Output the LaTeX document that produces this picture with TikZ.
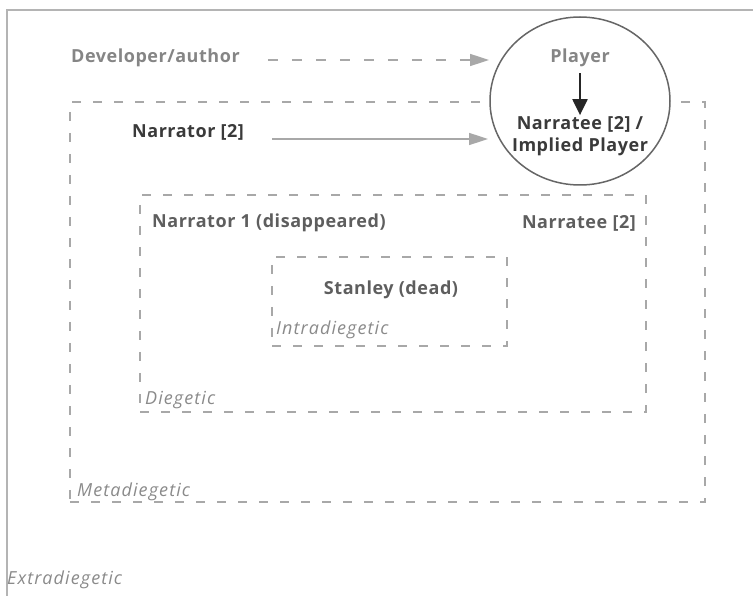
\documentclass[tikz,border=0pt]{standalone}
\usepackage{fontspec}
\setmainfont{Open Sans}[LetterSpace=3]
\newfontfamily\labelfont{Open Sans}[LetterSpace=6]
\usetikzlibrary{arrows.meta,shapes.geometric}
\definecolor{framegray}{HTML}{B4B4B4}
\definecolor{dashgray}{HTML}{A8A8A8}
\definecolor{lightTxt}{HTML}{858585}
\definecolor{midTxt}{HTML}{5E5E5E}
\definecolor{darkTxt}{HTML}{3A3A3A}
\definecolor{labelTxt}{HTML}{8A8A8A}
\tikzset{
  lvlbox/.style={draw=dashgray, line width=1.6pt, dash pattern=on 9pt off 12pt},
  boldtxt/.style={font=\fontsize{18}{21}\selectfont\bfseries, inner sep=0pt},
  lvllabel/.style={font=\fontsize{18}{21}\selectfont\labelfont\itshape, text=labelTxt, inner sep=0pt, anchor=west},
  grayarrow/.style={draw=dashgray, line width=1.6pt, -{Triangle[length=19pt,width=12pt]}},
}
\begin{document}
\begin{tikzpicture}[x=1pt,y=-1pt]
\useasboundingbox (0,0) rectangle (753,596);
% outer frame (extradiegetic)
\draw[framegray, line width=1.5pt] (7,596) -- (7,10) -- (753,10);
% level boxes
\node[lvlbox, minimum width=635pt, minimum height=400pt, inner sep=0pt] (meta) at (387.5,302) {};
\node[lvlbox, minimum width=506pt, minimum height=217pt, inner sep=0pt] (dieg) at (393,303.5) {};
\node[lvlbox, minimum width=235pt, minimum height=89pt, inner sep=0pt] (intra) at (389.5,301.5) {};
% player circle
\node[ellipse, draw=black!60, fill=white, line width=1.5pt, minimum width=180pt, minimum height=168pt] (circ) at (580,101) {};
% texts
\node[boldtxt, text=lightTxt, anchor=west] (dev) at (71,58) {Developer/author};
\node[boldtxt, text=lightTxt] (player) at (580,58) {Player};
\node[boldtxt, text=darkTxt, align=center, font=\fontsize{18}{22}\selectfont\bfseries] (narratee) at (580,136) {Narratee [2] /\\Implied Player};
\node[boldtxt, text=darkTxt, anchor=west] (narr2) at (132,132) {Narrator [2]};
\node[boldtxt, text=midTxt, anchor=west] (narr1) at (152,223) {Narrator 1 (disappeared)};
\node[boldtxt, text=midTxt, anchor=east] (narratee2) at (636,223) {Narratee [2]};
\node[boldtxt, text=midTxt] (stanley) at (391,290) {Stanley (dead)};
\node[lvllabel] (lintra) at (276,330) {Intradiegetic};
\node[lvllabel] (ldieg) at (145,400) {Diegetic};
\node[lvllabel] (lmeta) at (77,492) {Metadiegetic};
\node[lvllabel] (lextra) at (7,580) {Extradiegetic};
% connectors
\coordinate (devend) at (489,60);
\coordinate (narrend) at (488,139);
\draw[grayarrow, dash pattern=on 10pt off 14pt] (dev.east |- devend) ++(28,0) -- (devend);
\draw[grayarrow] (narr2.east |- narrend) ++(28,0) -- (narrend);
\draw[black!85, line width=2.2pt, -{Triangle[length=16pt,width=15pt]}, shorten <=6pt, shorten >=1pt] (player.south) -- (narratee.north);
\end{tikzpicture}
\end{document}
